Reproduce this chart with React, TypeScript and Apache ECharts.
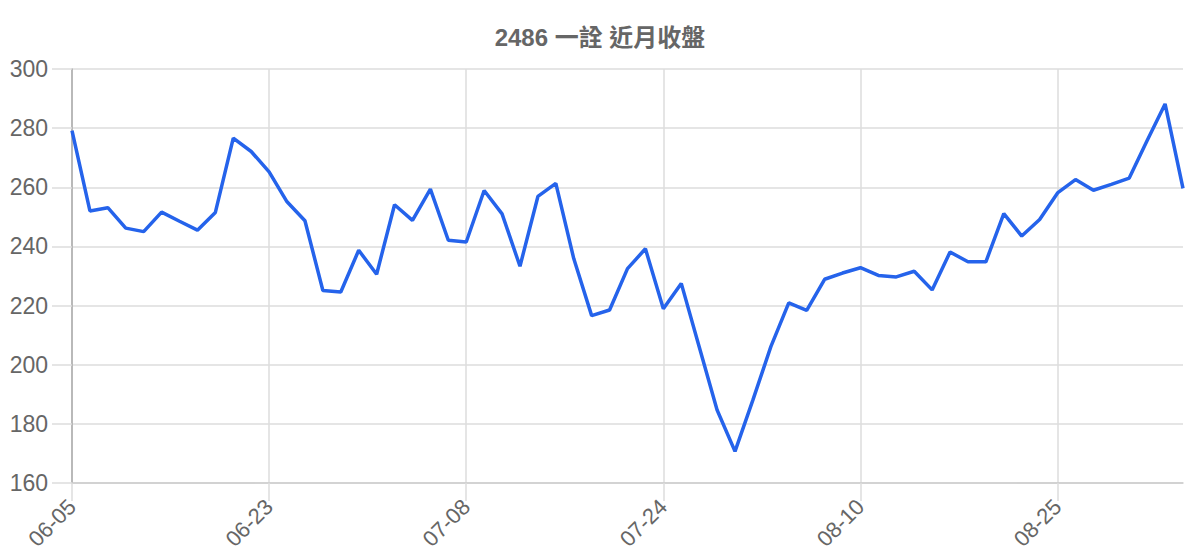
import React, { useEffect, useRef } from "react";
import * as echarts from "echarts";

const titleText = "2486 一詮 近月收盤";

const dates: string[] = [
  "06-05", "06-06", "06-08", "06-09", "06-10", "06-12", "06-13", "06-15", "06-16", "06-19", "06-20",
  "06-23", "06-24", "06-26", "06-27", "06-29", "06-30", "07-01", "07-03", "07-04", "07-06", "07-07",
  "07-08", "07-10", "07-11", "07-13", "07-14", "07-15", "07-17", "07-18", "07-20", "07-21", "07-22",
  "07-24", "07-25", "07-27", "07-28", "07-31", "08-01", "08-02", "08-04", "08-05", "08-07", "08-08",
  "08-10", "08-11", "08-12", "08-14", "08-15", "08-16", "08-18", "08-19", "08-21", "08-22", "08-24",
  "08-25", "08-26", "08-28", "08-29", "08-31", "09-01", "09-02", "09-04",
];

const closes: number[] = [
  279.2, 252.0, 253.1, 246.2, 245.0, 251.6, 248.5, 245.5, 251.5, 276.6, 272.1,
  265.2, 255.1, 248.7, 225.1, 224.6, 238.7, 230.6, 254.1, 248.8, 259.4, 242.1,
  241.5, 258.9, 251.0, 233.3, 256.9, 261.3, 235.9, 216.6, 218.5, 232.5, 239.2,
  218.9, 227.5, 206.1, 184.7, 170.7, 188.1, 206.1, 220.9, 218.4, 228.9, 231.0,
  232.8, 230.2, 229.7, 231.6, 225.3, 238.1, 234.8, 234.8, 251.1, 243.5, 249.1,
  258.1, 262.6, 259.0, 261.0, 263.1, 275.8, 288.2, 259.6,
];

const yMin = 160;
const yMax = 300;
const yStep = 20;

const FONT = "'Liberation Sans', Arial, 'Noto Sans CJK TC', sans-serif";

export default function App() {
  const ref = useRef<HTMLDivElement>(null);

  useEffect(() => {
    if (!ref.current) return;
    const chart = echarts.init(ref.current, undefined, { renderer: "svg" });
    chart.setOption({
      animation: false,
      backgroundColor: "#ffffff",
      title: {
        text: titleText,
        left: "center",
        top: 20,
        textStyle: {
          fontFamily: FONT,
          fontSize: 24,
          fontWeight: "bold",
          color: "#666666",
        },
      },
      grid: { left: 72, right: 17, top: 69, bottom: 77, containLabel: false },
      xAxis: {
        type: "category",
        data: dates,
        boundaryGap: false,
        axisLine: { show: true, lineStyle: { color: "#cccccc", width: 1.5 } },
        axisTick: {
          show: true,
          interval: 10,
          length: 18,
          lineStyle: { color: "#dddddd", width: 1.5 },
        },
        axisLabel: {
          interval: 10,
          rotate: 45,
          margin: 20,
          fontFamily: FONT,
          fontSize: 22,
          color: "#666666",
        },
        splitLine: {
          show: true,
          interval: 10,
          lineStyle: { color: "#dddddd", width: 1.5 },
        },
      },
      yAxis: {
        type: "value",
        min: yMin,
        max: yMax,
        interval: yStep,
        axisLine: { show: true, lineStyle: { color: "#aaaaaa", width: 1.5 } },
        axisTick: {
          show: true,
          length: 20,
          lineStyle: { color: "#dddddd", width: 1.5 },
        },
        axisLabel: {
          margin: 24,
          fontFamily: FONT,
          fontSize: 23,
          color: "#666666",
        },
        splitLine: { show: true, lineStyle: { color: "#dddddd", width: 1.5 } },
      },
      series: [
        {
          type: "line",
          data: closes,
          showSymbol: false,
          symbol: "none",
          lineStyle: { color: "#2563EB", width: 3.5 },
          itemStyle: { color: "#2563EB" },
        },
      ],
    });
    return () => chart.dispose();
  }, []);

  return (
    <div
      ref={ref}
      style={{ position: "fixed", left: 0, top: 0, width: 1200, height: 560 }}
    />
  );
}
